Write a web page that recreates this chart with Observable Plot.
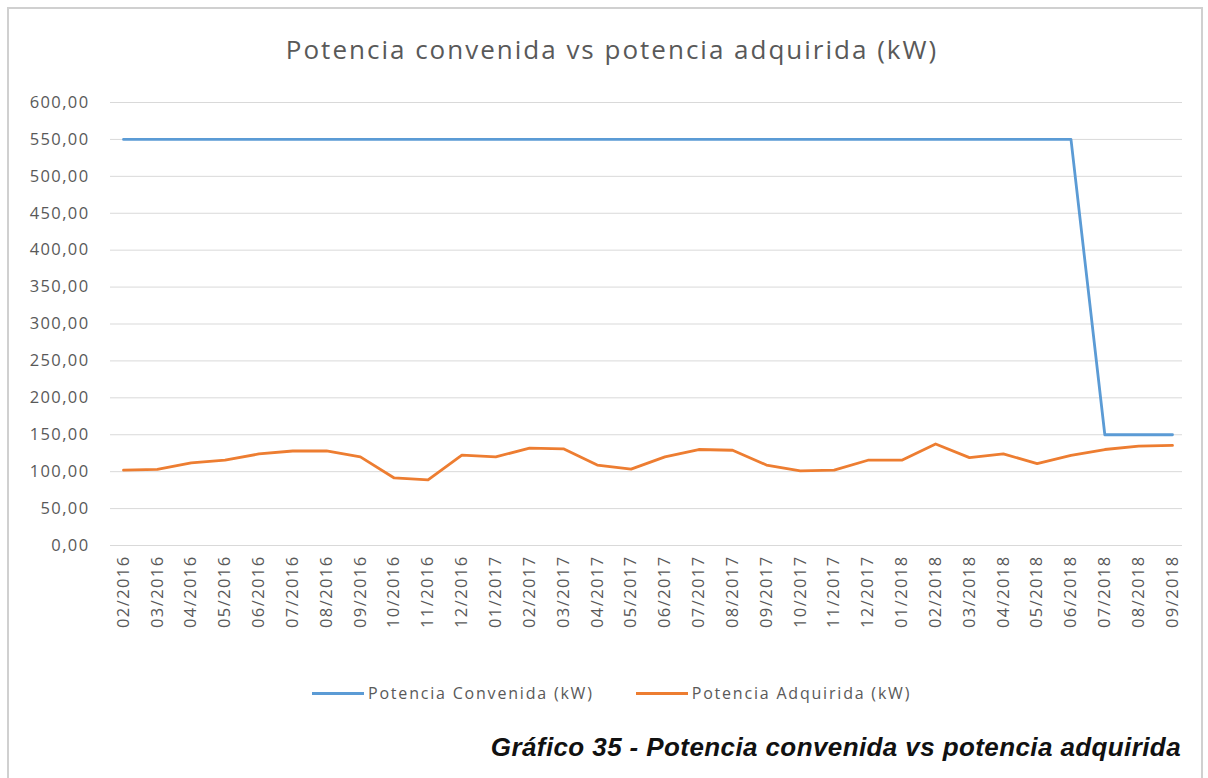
<!DOCTYPE html>
<html>
<head>
<meta charset="utf-8">
<script src="https://cdn.jsdelivr.net/npm/d3@7"></script>
<script src="https://cdn.jsdelivr.net/npm/@observablehq/plot@0.6"></script>
<style>
  html, body { margin: 0; padding: 0; background: #fff; }
  #wrap { position: relative; width: 1208px; height: 778px; overflow: hidden; font-family: "Open Sans", "Noto Sans", sans-serif; }
  #frame { position: absolute; left: 7px; top: 7px; width: 1196px; height: 800px; border: 2px solid #d0d0d0; box-sizing: border-box; }
  #title { position: absolute; left: 0; width: 1224px; top: 31px; text-align: center; font-size: 26px; letter-spacing: 2px; color: #595959; }
  #legend { position: absolute; top: 682px; left: 312px; font-size: 16px; letter-spacing: 1.8px; color: #595959; display: flex; align-items: center; }
  .item { display: flex; align-items: center; }
  .sw { display: inline-block; width: 52px; height: 3px; margin-right: 4px; }
  #caption { position: absolute; right: 27px; top: 732px; font-family: "Liberation Sans", Arial, sans-serif; font-weight: bold; font-style: italic; font-size: 26px; letter-spacing: 0.4px; color: #111; }
  #chart { position: absolute; left: 0; top: 0; }
</style>
</head>
<body>
<div id="wrap">
  <div id="frame"></div>
  <div id="chart"></div>
  <div id="title">Potencia convenida vs potencia adquirida (kW)</div>
  <div id="legend"></div>
  <div id="caption">Gráfico 35 - Potencia convenida vs potencia adquirida</div>
</div>
<script>
const months = ["02/2016","03/2016","04/2016","05/2016","06/2016","07/2016","08/2016","09/2016","10/2016","11/2016","12/2016",
  "01/2017","02/2017","03/2017","04/2017","05/2017","06/2017","07/2017","08/2017","09/2017","10/2017","11/2017","12/2017",
  "01/2018","02/2018","03/2018","04/2018","05/2018","06/2018","07/2018","08/2018","09/2018"];
const convenida = [550,550,550,550,550,550,550,550,550,550,550,
  550,550,550,550,550,550,550,550,550,550,550,550,
  550,550,550,550,550,550,150,150,150];
const adquirida = [102,103,112,115.5,124,128,128,120,91.5,89,122.5,
  120,132,131,109,103.5,120,130,129,109,101,102,115.5,
  115.5,137.5,119,124,111,122,130,134.5,135.5];
const yTicks = [0,50,100,150,200,250,300,350,400,450,500,550,600];
const seriesNames = ["Potencia Convenida (kW)", "Potencia Adquirida (kW)"];
const seriesColors = ["#5b9bd5", "#ed7d31"];

const rows = [];
months.forEach((m, i) => {
  rows.push({month: m, value: convenida[i], series: seriesNames[0]});
  rows.push({month: m, value: adquirida[i], series: seriesNames[1]});
});

const fmt = v => v.toFixed(2).replace(".", ",");

const plot = Plot.plot({
  width: 1208,
  height: 680,
  marginLeft: 110,
  marginRight: 26,
  marginTop: 102,
  marginBottom: 135,
  style: {fontFamily: "'Open Sans', 'Noto Sans', sans-serif", fontSize: "16.5px", letterSpacing: "1.4px", color: "#595959", background: "transparent"},
  x: {type: "point", domain: months, range: [123, 1172], padding: 0, round: false, label: null},
  y: {domain: [0, 600], label: null},
  color: {domain: seriesNames, range: seriesColors},
  marks: [
    Plot.gridY(yTicks, {stroke: "#d9d9d9", strokeOpacity: 1, strokeWidth: 1}),
    Plot.axisY({ticks: yTicks, tickFormat: fmt, tickSize: 0, tickPadding: 21, label: null, fill: "#595959"}),
    Plot.axisX({tickSize: 0, tickRotate: -90, tickPadding: 10, label: null, fill: "#595959"}),
    Plot.lineY(rows, {x: "month", y: "value", z: "series", stroke: "series", strokeWidth: 2.8, curve: "linear"})
  ]
});
document.getElementById("chart").appendChild(plot);

const legend = document.getElementById("legend");
seriesNames.forEach((n, i) => {
  const it = document.createElement("div");
  it.className = "item";
  it.style.marginRight = i === 0 ? "42px" : "0";
  const sw = document.createElement("span");
  sw.className = "sw";
  sw.style.background = seriesColors[i];
  const t = document.createElement("span");
  t.textContent = n;
  it.appendChild(sw); it.appendChild(t);
  legend.appendChild(it);
});
</script>
</body>
</html>
